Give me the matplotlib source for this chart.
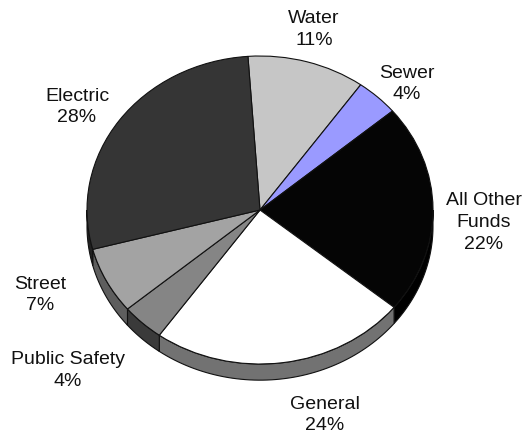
import numpy as np
import matplotlib
matplotlib.use("Agg")
import matplotlib.pyplot as plt
from matplotlib.patches import Polygon

plt.rcParams['font.family'] = ['Liberation Sans', 'DejaVu Sans']

# Fund shares, in drawing order (clockwise from the top)
funds = ["Water", "Sewer", "All Other\nFunds", "General", "Public Safety", "Street", "Electric"]
shares = [11, 4, 22, 24, 4, 7, 28]

top_colors = ["#c6c6c6", "#9a9aff", "#050505", "#ffffff", "#858585", "#a3a3a3", "#353535"]
side_colors = ["#8a8a8a", "#6a6ab0", "#000000", "#727272", "#3a3a3a", "#5e5e5e", "#222222"]

# label anchor points (axes data units, pie radius = 1)
label_pos = [(0.312, 1.175), (0.85, 0.818), (1.295, -0.084), (0.376, -1.331),
             (-1.11, -1.045), (-1.272, -0.552), (-1.058, 0.669)]

W, H = 526, 437
fig = plt.figure(figsize=(W / 100, H / 100), dpi=100)
ax = fig.add_axes([0, 0, 1, 1])

wedges, _ = ax.pie(shares, colors=top_colors, startangle=94, counterclock=False,
                   radius=1.0, center=(0, 0),
                   wedgeprops=dict(edgecolor="#111111", linewidth=0.8, zorder=3))

# side wall of the disc (visible lower half)
depth = 0.105
for w, sc in zip(wedges, side_colors):
    lo, hi = min(w.theta1, w.theta2), max(w.theta1, w.theta2)
    for shift in (-360, 0, 360):
        s = max(lo + shift, 180)
        e = min(hi + shift, 360)
        if e > s:
            th = np.radians(np.linspace(s, e, 60))
            xs = np.cos(th)
            ys = np.sin(th)
            pts = np.concatenate([np.column_stack([xs, ys]),
                                  np.column_stack([xs[::-1], ys[::-1] - depth])])
            ax.add_patch(Polygon(pts, closed=True, facecolor=sc,
                                 edgecolor="#111111", linewidth=0.8, zorder=2))

for name, val, (lx, ly) in zip(funds, shares, label_pos):
    ax.text(lx, ly, f"{name}\n{val}%", ha="center", va="center",
            fontsize=14, linespacing=1.38, color="#111111")

cx, cy, rx, ry = 260, 210, 173, 154
ax.set_aspect("auto")
ax.set_xlim(-cx / rx, (W - cx) / rx)
ax.set_ylim(-(H - cy) / ry, cy / ry)
ax.axis("off")

fig.savefig("out.png", dpi=100)
